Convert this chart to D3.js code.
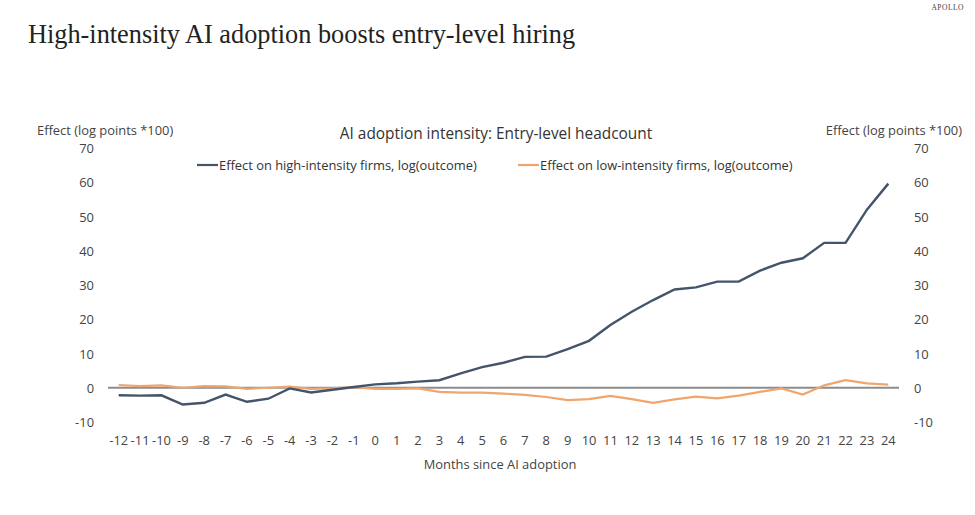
<!DOCTYPE html>
<html>
<head>
<meta charset="utf-8">
<script src="https://cdn.jsdelivr.net/npm/d3@7"></script>
<style>
  body { margin: 0; background: #fff; }
  svg { display: block; }
</style>
</head>
<body>
<div id="chart"></div>
<script>
// donnees
const months = d3.range(-12, 25);
const highIntensity = [-2.2, -2.3, -2.2, -4.9, -4.4, -2.0, -4.1, -3.2, -0.2, -1.4, -0.6, 0.2,
  1.0, 1.3, 1.8, 2.2, 4.2, 6.0, 7.3, 9.0, 9.1, 11.3, 13.7, 18.3, 22.2, 25.6, 28.7,
  29.3, 31.0, 31.0, 34.2, 36.5, 37.8, 42.3, 42.3, 52.0, 59.6];
const lowIntensity = [0.8, 0.5, 0.7, 0.0, 0.5, 0.4, -0.3, 0.0, 0.3, -0.3, -0.2, 0.2,
  -0.3, -0.3, -0.2, -1.2, -1.4, -1.4, -1.7, -2.1, -2.7, -3.6, -3.3, -2.4, -3.3, -4.4,
  -3.4, -2.6, -3.1, -2.3, -1.2, -0.2, -2.0, 0.7, 2.2, 1.3, 0.9];
const yTicks = [-10, 0, 10, 20, 30, 40, 50, 60, 70];
const seriesNames = ["Effect on high-intensity firms, log(outcome)", "Effect on low-intensity firms, log(outcome)"];

const width = 975,
    height = 515,
    sansFont = "'Open Sans', 'Noto Sans', sans-serif",
    serifFont = "'Liberation Serif', 'DejaVu Serif', serif",
    colorHigh = "#44546a",
    colorLow = "#efa66e";

const svg = d3.select("#chart")
  .append("svg")
  .attr("width", width)
  .attr("height", height);

// echelles
const x = d3.scalePoint()
  .domain(months)
  .range([108, 899])
  .padding(0.5);

const y = d3.scaleLinear()
  .domain([-10, 70])
  .range([422, 148]);

// titres
svg.append("text")
  .attr("x", 28)
  .attr("y", 43)
  .style("font-family", serifFont)
  .style("font-size", "26.3px")
  .style("fill", "#222")
  .text("High-intensity AI adoption boosts entry-level hiring");

svg.append("text")
  .attr("x", 964)
  .attr("y", 10)
  .attr("text-anchor", "end")
  .style("font-family", serifFont)
  .style("font-size", "7.5px")
  .style("letter-spacing", "0.5px")
  .style("fill", "#444")
  .text("APOLLO");

svg.append("text")
  .attr("x", 496)
  .attr("y", 139)
  .attr("text-anchor", "middle")
  .style("font-family", sansFont)
  .style("font-size", "15.4px")
  .style("fill", "#333")
  .text("AI adoption intensity: Entry-level headcount");

// axes y (gauche et droite)
const axisText = g => g
  .style("font-family", sansFont)
  .style("font-size", "12.9px")
  .style("fill", "#444");

svg.append("g")
  .call(axisText)
  .selectAll("text")
  .data(yTicks)
  .join("text")
  .attr("x", 94)
  .attr("y", d => y(d))
  .attr("text-anchor", "end")
  .attr("dominant-baseline", "central")
  .text(d => d);

svg.append("g")
  .call(axisText)
  .selectAll("text")
  .data(yTicks)
  .join("text")
  .attr("x", 914)
  .attr("y", d => y(d))
  .attr("text-anchor", "start")
  .attr("dominant-baseline", "central")
  .text(d => d);

svg.append("text")
  .call(axisText)
  .attr("x", 37)
  .attr("y", 135)
  .text("Effect (log points *100)");

svg.append("text")
  .call(axisText)
  .attr("x", 962)
  .attr("y", 135)
  .attr("text-anchor", "end")
  .text("Effect (log points *100)");

// axe x
svg.append("g")
  .call(axisText)
  .selectAll("text")
  .data(months)
  .join("text")
  .attr("x", d => x(d))
  .attr("y", 445)
  .attr("text-anchor", "middle")
  .text(d => d);

svg.append("text")
  .call(axisText)
  .attr("x", 500)
  .attr("y", 469)
  .attr("text-anchor", "middle")
  .text("Months since AI adoption");

// ligne du zero
svg.append("line")
  .attr("x1", 108)
  .attr("x2", 899)
  .attr("y1", y(0))
  .attr("y2", y(0))
  .style("stroke", "#8c8c8c")
  .style("stroke-width", 2);

// courbes
const line = d3.line()
  .x((d, i) => x(months[i]))
  .y(d => y(d));

svg.append("path")
  .datum(lowIntensity)
  .attr("d", line)
  .style("fill", "none")
  .style("stroke", colorLow)
  .style("stroke-width", 2.2);

svg.append("path")
  .datum(highIntensity)
  .attr("d", line)
  .style("fill", "none")
  .style("stroke", colorHigh)
  .style("stroke-width", 2.4);

// legende
const legend = svg.append("g")
  .style("font-family", sansFont)
  .style("font-size", "12.9px")
  .style("fill", "#333");

const legendItems = [
  { name: seriesNames[0], color: colorHigh, x: 197 },
  { name: seriesNames[1], color: colorLow, x: 518 }
];

legend.selectAll("line")
  .data(legendItems)
  .join("line")
  .attr("x1", d => d.x)
  .attr("x2", d => d.x + 21)
  .attr("y1", 165)
  .attr("y2", 165)
  .style("stroke", d => d.color)
  .style("stroke-width", 2.2);

legend.selectAll("text")
  .data(legendItems)
  .join("text")
  .attr("x", d => d.x + 22)
  .attr("y", 165)
  .attr("dominant-baseline", "central")
  .text(d => d.name);
</script>
</body>
</html>
